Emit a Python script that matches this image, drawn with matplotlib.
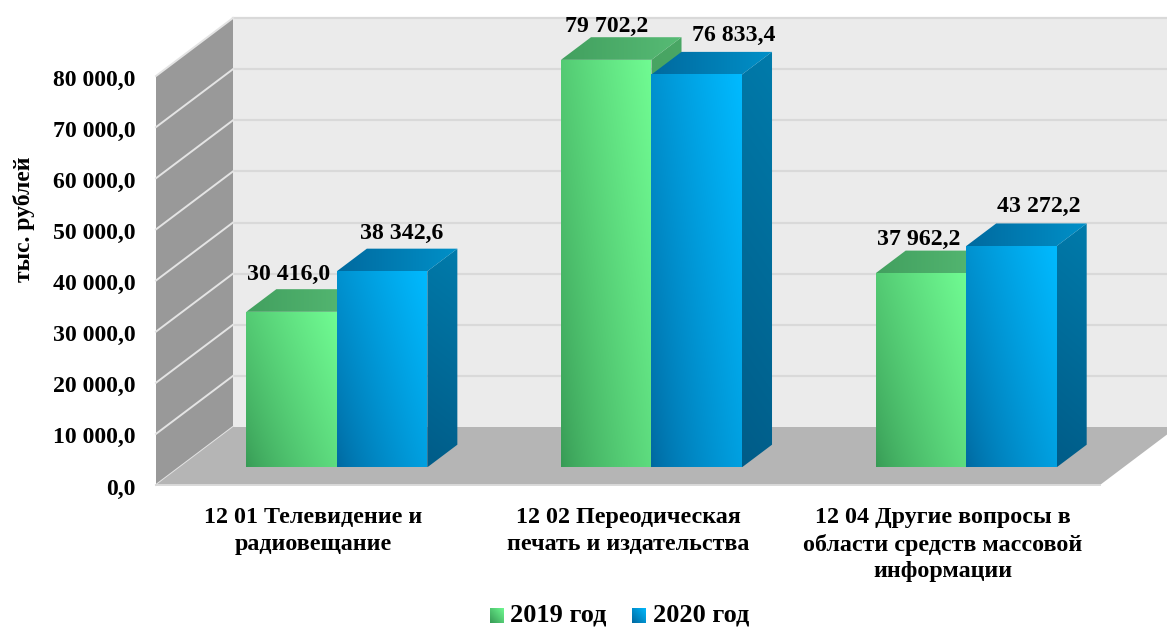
import numpy as np
import matplotlib
matplotlib.use('Agg')
import matplotlib.pyplot as plt
from matplotlib.patches import Polygon
from matplotlib.transforms import ScaledTranslation

categories = ['12 01 Телевидение и\nрадиовещание',
              '12 02 Переодическая\nпечать и издательства',
              '12 04 Другие вопросы в\nобласти средств массовой\nинформации']
series_names = ['2019 год', '2020 год']
values_2019 = [30416.0, 79702.2, 37962.2]
values_2020 = [38342.6, 76833.4, 43272.2]
y_ticks = [0, 10000, 20000, 30000, 40000, 50000, 60000, 70000, 80000]

plt.rcParams['font.family'] = ['Liberation Serif', 'DejaVu Serif']
plt.rcParams['font.weight'] = 'bold'

W, H = 1167, 627
# передняя плоскость осей в пикселях
LEFT, RIGHT, BOTTOM, TOP = 156, 1100, 485, 76

fig = plt.figure(figsize=(W / 100, H / 100), dpi=100)
ax = fig.add_axes([LEFT / W, 1 - BOTTOM / H, (RIGHT - LEFT) / W, (BOTTOM - TOP) / H])
ax.set_facecolor('none')
for s in ax.spines.values():
    s.set_visible(False)

X_PX = 3 / (RIGHT - LEFT)
Y_PX = 80000 / (BOTTOM - TOP)
# глубина стенок
DX, DY = 77 * X_PX, 58 * Y_PX
BAR_W = 90.5 * X_PX
BAR_FRONT, BAR_BACK = 0.305, 0.695
YMAX = 80000


def deep(x, y, d):
    return (x + d * DX, y + d * DY)


def px(x, y):
    return ((x - LEFT) * X_PX, (BOTTOM - y) * Y_PX)


def gradient(points, c0, c1, fx, fy, gamma=1.0, z=3):
    points = np.array(points)
    xx, yy = np.meshgrid(np.linspace(0, 1, 64), np.linspace(0, 1, 64))
    t = np.clip(fx * xx + fy * yy, 0, 1) ** gamma
    c0 = np.array(matplotlib.colors.to_rgb(c0))
    c1 = np.array(matplotlib.colors.to_rgb(c1))
    img = c0 + t[..., None] * (c1 - c0)
    ext = (points[:, 0].min(), points[:, 0].max(), points[:, 1].min(), points[:, 1].max())
    im = ax.imshow(img, extent=ext, origin='lower', aspect='auto', zorder=z, interpolation='bilinear')
    im.set_clip_box(fig.bbox)
    poly = Polygon(points, closed=True, transform=ax.transData, fc='none', ec='none')
    ax.add_patch(poly)
    poly.set_clip_on(False)
    im.set_clip_path(poly)


def flat(points, color, z=1, ec='none', lw=0):
    ax.add_patch(Polygon(points, closed=True, fc=color, ec=ec, lw=lw, zorder=z, clip_on=False))


def bar3d(x0, x1, val, front, side, cap, z):
    a, b = deep(x0, 0, BAR_FRONT), deep(x1, 0, BAR_FRONT)
    at, bt = deep(x0, val, BAR_FRONT), deep(x1, val, BAR_FRONT)
    bb, btb = deep(x1, 0, BAR_BACK), deep(x1, val, BAR_BACK)
    atb = deep(x0, val, BAR_BACK)
    gradient([bt, btb, bb, b], side[0], side[1], 0.1, 0.9, z=z)
    gradient([at, atb, btb, bt], cap[0], cap[1], 1.0, 0.0, z=z + 0.1)
    gradient([a, b, bt, at], front[0], front[1], 0.6, 0.4, gamma=0.75, z=z + 0.2)


# стенки и пол
flat([deep(0, 0, 1), deep(3, 0, 1), deep(3, YMAX, 1), deep(0, YMAX, 1)], '#ebebeb', z=0.5)
flat([deep(0, 0, 0), deep(0, 0, 1), deep(0, YMAX, 1), deep(0, YMAX, 0)], '#999999', z=0.6)
flat([deep(0, 0, 0), deep(0, 0, 1), deep(3, 0, 1), deep(3, 0, 0)], '#b5b5b5', z=0.7)

for v in y_ticks:
    if v > 0:
        ax.plot([deep(0, v, 1)[0], deep(3, v, 1)[0]], [deep(0, v, 1)[1]] * 2,
                color='#d9d9d9', lw=1.6, zorder=0.55, clip_on=False)
    ax.plot([0, deep(0, v, 1)[0]], [v, deep(0, v, 1)[1]],
            color='#e4e4e4', lw=1.4, zorder=0.65, clip_on=False)
ax.plot([0, 3], [0, 0], color='#d9d9d9', lw=1.4, zorder=0.75, clip_on=False)

GREEN = (('#379a55', '#70fb92'), ('#5fc97a', '#3f9a58'), ('#42a05f', '#57bb75'))
BLUE = (('#00689f', '#00baff'), ('#007bab', '#005c88'), ('#006a9f', '#0090c8'))

for i in range(len(categories)):
    bar3d(i + 0.5 - BAR_W, i + 0.5, values_2019[i],
          GREEN[0], ('#3c9453', '#4aa765'), GREEN[2], 3 + i)
    bar3d(i + 0.5, i + 0.5 + BAR_W, values_2020[i],
          BLUE[0], ('#005c88', '#007bab'), BLUE[2], 3.5 + i)

# подписи значений: сдвиг в пикселях от центра столбца
shift_2019 = [(-3, 37), (0, 33), (-2, 34)]
shift_2020 = [(20, 38), (37, 39), (27, 40)]
for i in range(len(categories)):
    for vals, shift, off in ((values_2019, shift_2019, -0.5), (values_2020, shift_2020, 0.5)):
        txt = f"{vals[i]:,.1f}".replace(',', ' ').replace('.', ',')
        x, y = deep(i + 0.5 + off * BAR_W, vals[i], BAR_FRONT)
        ax.annotate(txt, (x, y), xytext=(shift[i][0] * 0.72, shift[i][1] * 0.72),
                    textcoords='offset points', ha='center', va='center',
                    fontsize=17.1, fontweight='bold', zorder=10, annotation_clip=False)

ax.set_xlim(0, 3)
ax.set_ylim(0, YMAX)
ax.set_yticks(y_ticks)
ax.set_yticklabels([f"{v:,.1f}".replace(',', ' ').replace('.', ',') for v in y_ticks],
                   fontsize=17.1, fontweight='bold')
ax.set_xticks([0.5, 1.5, 2.5])
ax.set_xticklabels(categories, fontsize=17.3, fontweight='bold', linespacing=1.33)
ax.tick_params(axis='y', length=0, pad=15)
ax.tick_params(axis='x', length=0, pad=16)
# после tick_params, иначе pad сбрасывает сдвиг
for lab in ax.get_yticklabels():
    lab.set_transform(lab.get_transform() + ScaledTranslation(0, -1.5 / 100, fig.dpi_scale_trans))
ax.set_ylabel('тыс. рублей', fontsize=17, fontweight='bold')
ax.yaxis.set_label_coords((35 - LEFT) / (RIGHT - LEFT), (BOTTOM - 219) / (BOTTOM - TOP))

# легенда
for name, sx, tx, col in ((series_names[0], 490, 510, GREEN[0]), (series_names[1], 632, 653, BLUE[0])):
    gradient([px(sx, 623), px(sx + 14, 623), px(sx + 14, 608), px(sx, 608)], col[0], col[1], 0.5, 0.5, z=10)
    x, y = px(tx, 622)
    ax.text(x, y, name, fontsize=19, fontweight='bold', ha='left', va='baseline', clip_on=False)

ax.set_xlim(0, 3)
ax.set_ylim(0, YMAX)
fig.savefig('out.png', dpi=100)
